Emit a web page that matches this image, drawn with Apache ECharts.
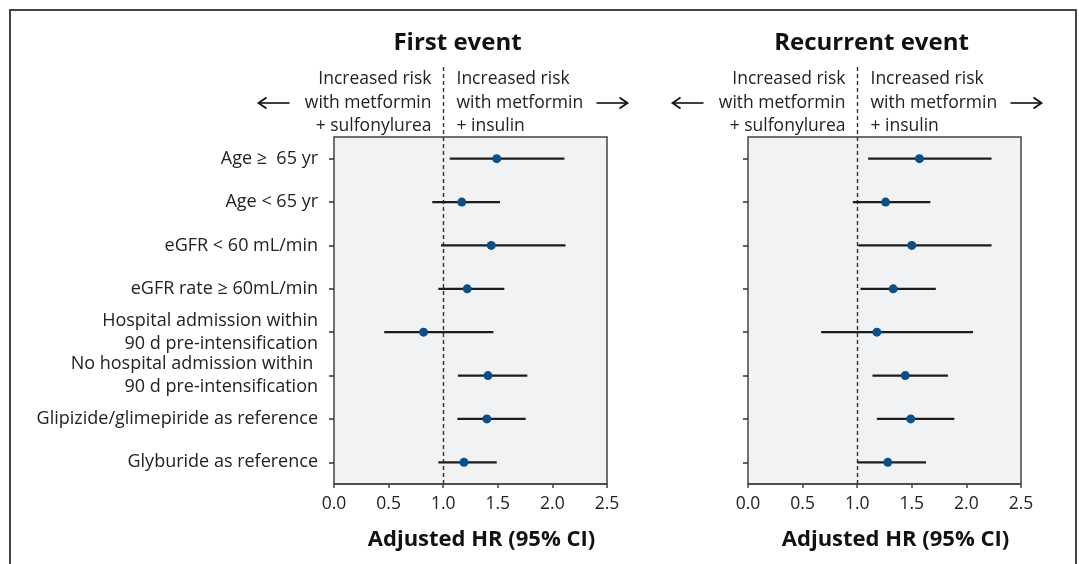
<!DOCTYPE html>
<html>
<head>
<meta charset="utf-8">
<script src="https://cdn.jsdelivr.net/npm/echarts@6/dist/echarts.min.js"></script>
<style>
html,body{margin:0;padding:0;background:#fff;}
#c{width:1079px;height:564px;}
</style>
</head>
<body>
<div id="c"></div>
<script>
const categories = [
  'Age \u2265  65 yr',
  'Age < 65 yr',
  'eGFR < 60 mL/min',
  'eGFR rate \u2265 60mL/min',
  'Hospital admission within\n90 d pre-intensification',
  'No hospital admission within \n90 d pre-intensification',
  'Glipizide/glimepiride as reference',
  'Glyburide as reference'
];
const panelTitles = ['First event', 'Recurrent event'];
const xTicks = [0, 0.5, 1.0, 1.5, 2.0, 2.5];
const refValue = 1;

const firstHR = [1.49, 1.17, 1.44, 1.22, 0.82, 1.41, 1.40, 1.19];
const firstLo = [1.06, 0.90, 0.98, 0.955, 0.46, 1.135, 1.13, 0.955];
const firstHi = [2.11, 1.52, 2.12, 1.56, 1.46, 1.77, 1.755, 1.49];

const recHR = [1.57, 1.26, 1.50, 1.33, 1.18, 1.44, 1.49, 1.28];
const recLo = [1.10, 0.96, 1.01, 1.03, 0.67, 1.14, 1.18, 1.00];
const recHi = [2.23, 1.67, 2.23, 1.72, 2.06, 1.83, 1.89, 1.63];

const leftNote = 'Increased risk\nwith metformin\n+ sulfonylurea';
const rightNote = 'Increased risk\nwith metformin\n+ insulin';
const axisTitle = 'Adjusted HR (95% CI)';

const FONT = '"Open Sans", "Noto Sans", sans-serif';
const TXT = '#222';
const chart = echarts.init(document.getElementById('c'));

const grids = [
  {left: 334, top: 137, width: 273, height: 347},
  {left: 748, top: 137, width: 273, height: 347}
];

function xAxisFor(i) {
  return {
    type: 'value', gridIndex: i, min: xTicks[0], max: xTicks[xTicks.length - 1], interval: 0.5,
    axisLine: {show: true, lineStyle: {color: '#444', width: 1.5}},
    axisTick: {show: true, length: 4, lineStyle: {color: '#444', width: 1.5}},
    splitLine: {show: false},
    axisLabel: {color: TXT, fontFamily: FONT, fontSize: 17.5, margin: 11,
      formatter: v => v.toFixed(1)}
  };
}
function yAxisFor(i) {
  return {
    type: 'category', gridIndex: i, data: categories, inverse: true,
    axisLine: {show: false},
    axisTick: {show: true, alignWithLabel: true, length: 5, lineStyle: {color: '#333', width: 1.5}},
    splitLine: {show: false},
    axisLabel: {show: i === 0, color: TXT, fontFamily: FONT, fontSize: 18, margin: 16,
      lineHeight: 22.5, align: 'right'}
  };
}

function ciSeries(i, lo, hi) {
  return {
    type: 'custom', xAxisIndex: i, yAxisIndex: i, z: 3,
    data: lo.map((v, k) => [k, v, hi[k]]),
    encode: {y: 0, x: [1, 2]},
    renderItem: function (params, api) {
      const k = api.value(0);
      const a = api.coord([api.value(1), k]);
      const b = api.coord([api.value(2), k]);
      return {type: 'line', shape: {x1: a[0], y1: a[1], x2: b[0], y2: b[1]},
        style: {stroke: '#1c1c1c', lineWidth: 2.2}};
    }
  };
}
function ptSeries(i, hr) {
  return {
    type: 'scatter', xAxisIndex: i, yAxisIndex: i, z: 5,
    symbol: 'circle', symbolSize: 9,
    itemStyle: {color: '#0b4f8a', opacity: 1},
    data: hr.map((v, k) => [v, k]),
    markLine: {
      silent: true, symbol: 'none', z: 2, animation: false,
      label: {show: false},
      lineStyle: {color: '#333', type: [4, 3], width: 1.4},
      data: [{xAxis: refValue}]
    }
  };
}

chart.setOption({
  animation: false,
  grid: grids.map(g => Object.assign({show: true, backgroundColor: '#f1f2f4',
    borderColor: '#444', borderWidth: 1.5}, g)),
  xAxis: [xAxisFor(0), xAxisFor(1)],
  yAxis: [yAxisFor(0), yAxisFor(1)],
  series: [ciSeries(0, firstLo, firstHi), ptSeries(0, firstHR),
           ciSeries(1, recLo, recHi), ptSeries(1, recHR)]
});

function arrow(xTail, xHead, y) {
  const d = xHead > xTail ? 1 : -1;
  return [
    {type: 'line', shape: {x1: xTail, y1: y, x2: xHead - d * 1, y2: y},
      style: {stroke: '#111', lineWidth: 1.6}},
    {type: 'polyline', shape: {points: [[xHead - d * 8, y - 5.5], [xHead, y], [xHead - d * 8, y + 5.5]]},
      style: {stroke: '#111', lineWidth: 1.8, fill: 'none'}}
  ];
}

const gfx = [{
  type: 'rect', shape: {x: 10, y: 10, width: 1066, height: 640},
  style: {fill: 'none', stroke: '#444', lineWidth: 2}, z: 100
}];
[0, 1].forEach(i => {
  const dashX = Math.round(chart.convertToPixel({xAxisIndex: i}, refValue)) + 0.5;
  const g = grids[i];
  const cx = g.left + g.width / 2;
  gfx.push({type: 'line', shape: {x1: dashX, y1: 67, x2: dashX, y2: g.top},
    style: {stroke: '#333', lineWidth: 1.4, lineDash: [4, 3]}});
  gfx.push({type: 'text', x: cx - 13, y: 43,
    style: {text: panelTitles[i], font: 'bold 24px ' + FONT, fill: '#111',
      align: 'center', verticalAlign: 'middle'}});
  gfx.push({type: 'text', x: dashX - 12, y: 103,
    style: {text: leftNote, font: '17.5px ' + FONT, fill: TXT, lineHeight: 23.5,
      align: 'right', verticalAlign: 'middle'}});
  gfx.push({type: 'text', x: dashX + 13, y: 103,
    style: {text: rightNote, font: '17.5px ' + FONT, fill: TXT, lineHeight: 23.5,
      align: 'left', verticalAlign: 'middle'}});
  arrow(dashX - 154, dashX - 185, 103).forEach(e => gfx.push(e));
  arrow(dashX + 153, dashX + 184, 103).forEach(e => gfx.push(e));
  gfx.push({type: 'text', x: cx + 11, y: 540,
    style: {text: axisTitle, font: 'bold 22px ' + FONT, fill: '#111',
      align: 'center', verticalAlign: 'middle'}});
});
chart.setOption({graphic: gfx});
</script>
</body>
</html>
